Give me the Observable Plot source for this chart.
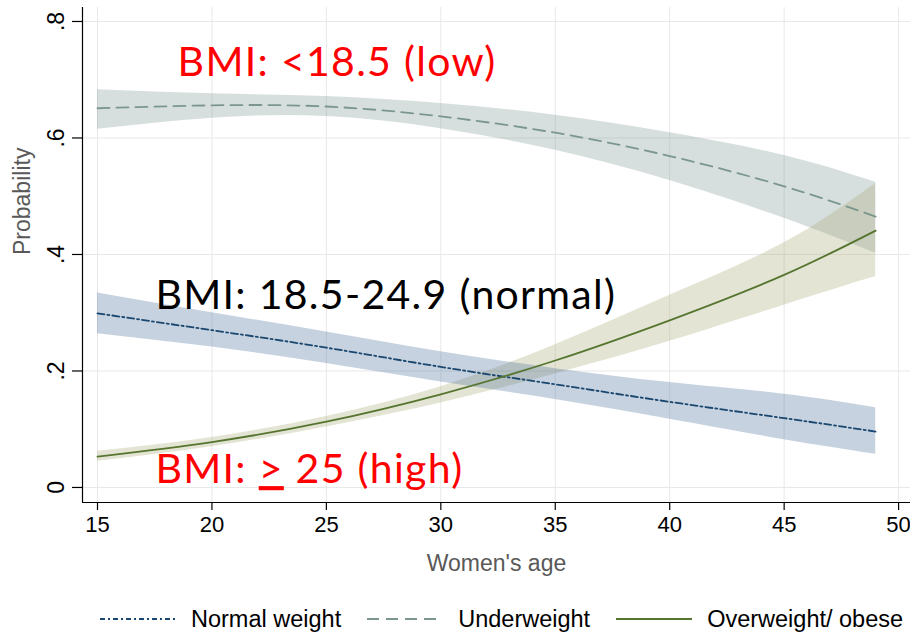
<!DOCTYPE html>
<html>
<head>
<meta charset="utf-8">
<script src="https://cdn.jsdelivr.net/npm/d3@7"></script>
<script src="https://cdn.jsdelivr.net/npm/@observablehq/plot@0.6"></script>
<style>
  html, body { margin: 0; padding: 0; background: #fff; }
  #chart { width: 910px; }
  .legend { display: flex; align-items: center; height: 30px; padding-top: 14px; padding-left: 100px;
            font-family: "Liberation Sans", Arial, sans-serif; font-size: 23.5px; color: #000; white-space: nowrap; }
  .legend .item { display: flex; align-items: center; margin-right: 26px; }
  .legend svg { margin-right: 15px; }
</style>
</head>
<body>
<div id="chart"></div>
<script>
// ---- data ----
const ages = [15, 20, 25, 30, 35, 40, 45, 49];

const normalMean  = [0.299, 0.270, 0.240, 0.207, 0.177, 0.147, 0.119, 0.096];
const normalUpper = [0.334, 0.300, 0.267, 0.233, 0.204, 0.180, 0.160, 0.137];
const normalLower = [0.264, 0.241, 0.213, 0.181, 0.151, 0.117, 0.082, 0.057];

const underMean  = [0.651, 0.656, 0.654, 0.637, 0.609, 0.569, 0.517, 0.465];
const underUpper = [0.683, 0.676, 0.671, 0.659, 0.639, 0.609, 0.570, 0.524];
const underLower = [0.615, 0.634, 0.637, 0.616, 0.579, 0.527, 0.462, 0.402];

const overMean  = [0.053, 0.078, 0.113, 0.160, 0.218, 0.287, 0.365, 0.441];
const overUpper = [0.062, 0.086, 0.122, 0.173, 0.245, 0.330, 0.420, 0.522];
const overLower = [0.045, 0.070, 0.104, 0.145, 0.195, 0.251, 0.313, 0.362];

const seriesNames = ["Normal weight", "Underweight", "Overweight/ obese"];
const xTicks = [15, 20, 25, 30, 35, 40, 45, 50];
const yTicks = [0, 0.2, 0.4, 0.6, 0.8];
const xDomain = [14.345, 50.52];
const yDomain = [-0.0258, 0.824];

const annotations = [
  {text: "BMI: <18.5 (low)", age: 18.5, p: 0.7296, color: "#ff0000"},
  {text: "BMI: 18.5-24.9 (normal)", age: 17.53, p: 0.3288, color: "#000000"},
  {text: "BMI: > 25 (high)", age: 17.53, p: 0.030, color: "#ff0000"}
];

// ---- styles ----
const lineColors = {"Normal weight": "#1a476f", "Underweight": "#7b978d", "Overweight/ obese": "#55752f"};
const bandColors = {"Normal weight": "#416994", "Underweight": "#7a9491", "Overweight/ obese": "#a5a570"};
const dashes = {"Normal weight": "7,3,2,3", "Underweight": "12,7", "Overweight/ obese": null};
const axisFont = "Liberation Sans, Arial, sans-serif";

function rows(name, mean, lo, hi) {
  return ages.map((a, i) => ({series: name, age: a, mean: mean[i], lo: lo[i], hi: hi[i]}));
}
const data = [
  rows("Normal weight", normalMean, normalLower, normalUpper),
  rows("Underweight", underMean, underLower, underUpper),
  rows("Overweight/ obese", overMean, overLower, overUpper)
];

const yFmt = d => d === 0 ? "0" : d3.format(".1f")(d).replace(/^0/, "");

const marks = [
  Plot.gridX(xTicks, {stroke: "#e8e8e8", strokeOpacity: 1, strokeWidth: 1}),
  Plot.gridY(yTicks, {stroke: "#e8e8e8", strokeOpacity: 1, strokeWidth: 1}),
];
// bands
for (const d of [data[1], data[2], data[0]]) {
  const name = d[0].series;
  marks.push(Plot.areaY(d, {x: "age", y1: "lo", y2: "hi", fill: bandColors[name], fillOpacity: 0.3, curve: "natural"}));
}
// lines
for (const d of data) {
  const name = d[0].series;
  marks.push(Plot.lineY(d, {x: "age", y: "mean", stroke: lineColors[name], strokeWidth: 1.8,
    strokeDasharray: dashes[name] || undefined, curve: "natural"}));
}
marks.push(
  Plot.ruleX([xDomain[0]], {stroke: "#000", strokeWidth: 1.2}),
  Plot.ruleY([yDomain[0]], {stroke: "#000", strokeWidth: 1.2}),
  Plot.axisX(xTicks, {tickSize: 8, tickPadding: 6, fontSize: 22, fill: "#000", label: null,
    fontFamily: axisFont, strokeWidth: 1.2}),
  Plot.axisY(yTicks, {tickSize: 10, tickPadding: 9, tickRotate: -90, fontSize: 23, fill: "#000", label: null,
    tickFormat: yFmt, fontFamily: axisFont, strokeWidth: 1.2}),
  Plot.text(["Women's age"], {frameAnchor: "bottom", dy: 68, fontSize: 23, fill: "#595959", fontFamily: axisFont}),
  Plot.text(["Probability"], {frameAnchor: "left", dx: -60, rotate: -90, fontSize: 23, fill: "#595959", fontFamily: axisFont}),
  Plot.text(annotations, {x: "age", y: "p", text: "text", fill: "color", textAnchor: "start",
    fontSize: 41, fontFamily: "Lato, 'Open Sans', sans-serif", className: "annot"})
);

const chart = Plot.plot({
  width: 910,
  height: 590,
  marginTop: 7,
  marginBottom: 88,
  marginLeft: 82,
  marginRight: 0,
  x: {domain: xDomain},
  y: {domain: yDomain},
  style: {background: "#fff", overflow: "visible"},
  marks
});
document.getElementById("chart").appendChild(chart);

// slight letter spacing for the annotations, and underline the ">" to make "≥" as in the reference
chart.querySelectorAll("g.annot text").forEach(t => { t.style.letterSpacing = "1.3px"; });
chart.querySelectorAll("text").forEach(t => {
  if (t.textContent === "BMI: > 25 (high)") {
    t.textContent = "";
    const parts = [["BMI: ", false], [">", true], [" 25 (high)", false]];
    for (const [s, u] of parts) {
      const ts = document.createElementNS("http://www.w3.org/2000/svg", "tspan");
      ts.textContent = s;
      if (u) {
        ts.setAttribute("text-decoration", "underline");
        ts.style.textDecorationThickness = "4px";
        ts.style.textUnderlineOffset = "7px";
      }
      t.appendChild(ts);
    }
  }
});

// legend
const legend = document.createElement("div");
legend.className = "legend";
for (const name of seriesNames) {
  const item = document.createElement("div");
  item.className = "item";
  const sw = d3.create("svg").attr("width", 76).attr("height", 10);
  sw.append("line").attr("x1", 0).attr("x2", 76).attr("y1", 5).attr("y2", 5)
    .attr("stroke", lineColors[name]).attr("stroke-width", 1.8)
    .attr("stroke-dasharray", name === "Normal weight" ? "5,3,2,3" : dashes[name]);
  item.appendChild(sw.node());
  const lab = document.createElement("span");
  lab.textContent = name;
  item.appendChild(lab);
  legend.appendChild(item);
}
document.body.appendChild(legend);
</script>
</body>
</html>
